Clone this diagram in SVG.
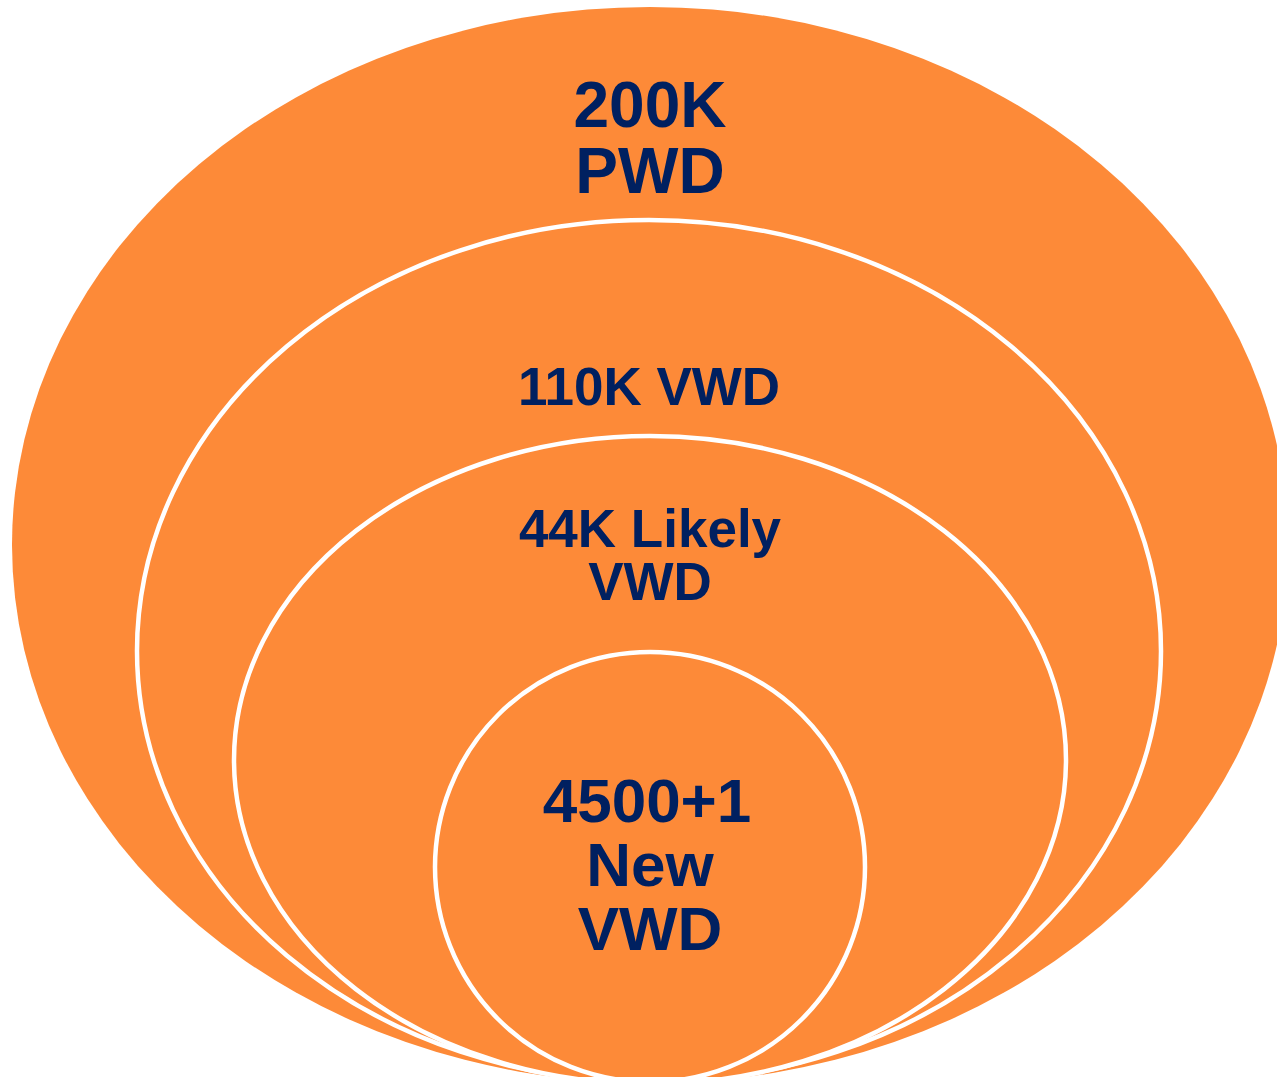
<svg xmlns="http://www.w3.org/2000/svg" width="1277" height="1077" viewBox="0 0 1277 1077">
<style>
.ring{fill:#FD8A38;stroke:#FFFFFF;stroke-width:4.5}
.lbl{font-family:"Liberation Sans",Arial,sans-serif;font-weight:bold;fill:#002060;text-anchor:middle}
</style>
<rect width="1277" height="1077" fill="#FFFFFF"/>
<g id="outer">
<ellipse cx="650" cy="545" rx="638" ry="538" fill="#FD8A38"/>
<text class="lbl" x="650" y="127" font-size="64">200K</text>
<text class="lbl" x="650" y="193" font-size="64">PWD</text>
</g>
<g id="vwd">
<ellipse class="ring" cx="649" cy="651" rx="512" ry="431"/>
<text class="lbl" x="649" y="405" font-size="53">110K VWD</text>
</g>
<g id="likely">
<ellipse class="ring" cx="650" cy="760" rx="416" ry="324"/>
<text class="lbl" x="650" y="547" font-size="53">44K Likely</text>
<text class="lbl" x="650" y="600" font-size="53">VWD</text>
</g>
<g id="new">
<circle class="ring" cx="650" cy="867" r="215"/>
<text class="lbl" x="647" y="822" font-size="62">4500+1</text>
<text class="lbl" x="650" y="886" font-size="62">New</text>
<text class="lbl" x="650" y="950" font-size="62">VWD</text>
</g>
<g id="connectors"></g>
</svg>
